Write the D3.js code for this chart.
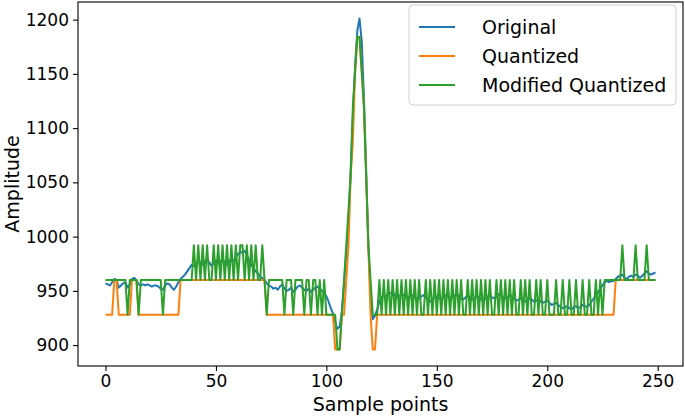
<!DOCTYPE html>
<html>
<head>
<meta charset="utf-8">
<script src="https://cdn.jsdelivr.net/npm/d3@7"></script>
<style>
  body { margin: 0; background: #fff; }
  svg { display: block; font-family: "DejaVu Sans", sans-serif; }
</style>
</head>
<body>
<div id="chart"></div>
<script>
// sample values (one value per sample point 0..249)
const original = [
  957, 956, 955, 958, 961, 960, 953, 955, 957, 958,
  953, 956, 961, 962, 960, 956, 955, 956, 955, 956,
  955, 954, 955, 955, 954, 952, 951, 955, 957, 956,
  953, 951, 954, 958, 961, 963, 965, 968, 971, 974,
  973, 975, 977, 976, 974, 977, 979, 976, 973, 976,
  978, 975, 977, 979, 976, 974, 977, 980, 978, 981,
  984, 986, 985, 987, 983, 978, 974, 971, 968, 966,
  963, 962, 960, 957, 955, 954, 952, 953, 951, 954,
  956, 952, 950, 951, 953, 949, 951, 954, 955, 953,
  951, 950, 952, 949, 951, 953, 954, 952, 950, 948,
  945, 940, 934, 929, 921, 915, 917, 931, 957, 985,
  1012, 1062, 1112, 1158, 1190, 1201, 1180, 1128, 1062, 992,
  946, 924, 927, 933, 940, 944, 946, 945, 947, 948,
  949, 946, 944, 945, 947, 946, 944, 943, 945, 946,
  944, 942, 943, 945, 946, 944, 941, 940, 942, 944,
  945, 943, 942, 944, 946, 945, 943, 944, 946, 947,
  945, 943, 942, 944, 946, 944, 942, 943, 945, 944,
  942, 941, 943, 945, 946, 944, 943, 945, 947, 946,
  944, 943, 944, 946, 945, 943, 941, 942, 943, 941,
  940, 941, 943, 942, 940, 941, 942, 940, 939, 940,
  941, 939, 937, 938, 939, 937, 935, 934, 935, 936,
  934, 933, 935, 936, 934, 935, 937, 936, 935, 937,
  940, 943, 946, 949, 952, 955, 958, 959, 958, 959,
  959, 961, 963, 964, 965, 962, 961, 963, 964, 963,
  965, 964, 962, 964, 966, 968, 966, 965, 966, 967
];

const quantized = [
  928, 928, 928, 928, 960, 960, 928, 928, 928, 928,
  928, 928, 960, 960, 960, 928, 928, 928, 928, 928,
  928, 928, 928, 928, 928, 928, 928, 928, 928, 928,
  928, 928, 928, 928, 960, 960, 960, 960, 960, 960,
  960, 960, 960, 960, 960, 960, 960, 960, 960, 960,
  960, 960, 960, 960, 960, 960, 960, 960, 960, 960,
  960, 960, 960, 960, 960, 960, 960, 960, 960, 960,
  960, 960, 960, 928, 928, 928, 928, 928, 928, 928,
  928, 928, 928, 928, 928, 928, 928, 928, 928, 928,
  928, 928, 928, 928, 928, 928, 928, 928, 928, 928,
  928, 928, 928, 928, 896, 896, 896, 928, 928, 960,
  992, 1056, 1088, 1152, 1184, 1184, 1152, 1120, 1056, 992,
  928, 896, 896, 928, 928, 928, 928, 928, 928, 928,
  928, 928, 928, 928, 928, 928, 928, 928, 928, 928,
  928, 928, 928, 928, 928, 928, 928, 928, 928, 928,
  928, 928, 928, 928, 928, 928, 928, 928, 928, 928,
  928, 928, 928, 928, 928, 928, 928, 928, 928, 928,
  928, 928, 928, 928, 928, 928, 928, 928, 928, 928,
  928, 928, 928, 928, 928, 928, 928, 928, 928, 928,
  928, 928, 928, 928, 928, 928, 928, 928, 928, 928,
  928, 928, 928, 928, 928, 928, 928, 928, 928, 928,
  928, 928, 928, 928, 928, 928, 928, 928, 928, 928,
  928, 928, 928, 928, 928, 928, 928, 928, 928, 928,
  928, 960, 960, 960, 960, 960, 960, 960, 960, 960,
  960, 960, 960, 960, 960, 960, 960, 960, 960, 960
];

const modified = [
  960, 960, 960, 960, 960, 960, 960, 960, 960, 960,
  928, 960, 960, 960, 960, 928, 960, 960, 960, 960,
  960, 960, 960, 960, 960, 960, 928, 960, 960, 960,
  960, 960, 960, 960, 960, 960, 960, 960, 960, 960,
  992, 960, 992, 960, 992, 960, 992, 960, 960, 992,
  960, 992, 960, 992, 960, 992, 960, 992, 960, 992,
  960, 992, 992, 960, 992, 960, 992, 960, 992, 960,
  960, 992, 960, 928, 960, 960, 960, 960, 960, 960,
  960, 928, 960, 960, 960, 928, 960, 960, 960, 960,
  928, 960, 960, 928, 960, 960, 928, 960, 928, 960,
  928, 928, 928, 928, 928, 896, 896, 928, 960, 992,
  1024, 1056, 1120, 1152, 1184, 1184, 1152, 1120, 1056, 992,
  960, 928, 928, 928, 960, 928, 960, 928, 960, 928,
  960, 928, 960, 928, 960, 928, 960, 928, 960, 928,
  960, 928, 960, 928, 928, 960, 928, 960, 928, 960,
  928, 960, 928, 960, 928, 960, 928, 960, 928, 960,
  928, 960, 928, 928, 960, 928, 960, 928, 960, 928,
  960, 928, 960, 928, 960, 928, 928, 960, 928, 960,
  928, 960, 928, 960, 928, 960, 928, 928, 960, 928,
  960, 928, 960, 928, 928, 960, 928, 960, 928, 928,
  960, 928, 928, 928, 960, 928, 928, 960, 928, 928,
  960, 928, 928, 960, 928, 928, 960, 928, 928, 960,
  928, 928, 960, 928, 960, 928, 960, 960, 960, 960,
  960, 960, 960, 960, 992, 960, 960, 960, 960, 960,
  992, 960, 960, 960, 960, 992, 960, 960, 960, 960
];

const seriesNames = ["Original", "Quantized", "Modified Quantized"];
const seriesColors = ["#1f77b4", "#ff7f0e", "#2ca02c"];
const xTicks = [0, 50, 100, 150, 200, 250];
const yTicks = [900, 950, 1000, 1050, 1100, 1150, 1200];

const width = 685, height = 418,
    margin = {top: 2, right: 2, bottom: 52, left: 78};
const innerW = width - margin.left - margin.right,
    innerH = height - margin.top - margin.bottom;

const svg = d3.select("#chart").append("svg")
    .attr("width", width)
    .attr("height", height);

const g = svg.append("g")
    .attr("transform", `translate(${margin.left},${margin.top})`);

// matplotlib-like 5% padding around the data
const n = original.length;
const xPad = (n - 1) * 0.05;
const yMin = d3.min([original, quantized, modified].flat()),
    yMax = d3.max([original, quantized, modified].flat());
const yPad = (yMax - yMin) * 0.05;

const x = d3.scaleLinear().domain([-xPad, n - 1 + xPad]).range([0, innerW]);
const y = d3.scaleLinear().domain([yMin - yPad, yMax + yPad]).range([innerH, 0]);

const line = d3.line()
    .x((d, i) => x(i))
    .y(d => y(d));

[original, quantized, modified].forEach((s, k) => {
    g.append("path")
        .datum(s)
        .attr("fill", "none")
        .attr("stroke", seriesColors[k])
        .attr("stroke-width", 2)
        .attr("stroke-linejoin", "round")
        .attr("d", line);
});

// axes
const xAxis = g.append("g")
    .attr("transform", `translate(0,${innerH})`)
    .call(d3.axisBottom(x).tickValues(xTicks).tickFormat(d3.format("d"))
        .tickSize(5).tickPadding(4).tickSizeOuter(0));
const yAxis = g.append("g")
    .call(d3.axisLeft(y).tickValues(yTicks).tickFormat(d3.format("d"))
        .tickSize(5).tickPadding(4).tickSizeOuter(0));

[xAxis, yAxis].forEach(a => {
    a.select(".domain").remove();
    a.selectAll(".tick line").attr("stroke", "#000").attr("stroke-width", 1.1);
    a.selectAll(".tick text")
        .attr("fill", "#000")
        .style("font-family", "DejaVu Sans")
        .style("font-size", "17px");
});

// frame
g.append("rect")
    .attr("x", 0).attr("y", 0)
    .attr("width", innerW).attr("height", innerH)
    .attr("fill", "none")
    .attr("stroke", "#000")
    .attr("stroke-width", 1.1);

// axis labels
svg.append("text")
    .attr("x", margin.left + innerW / 2)
    .attr("y", 411)
    .attr("text-anchor", "middle")
    .style("font-size", "19px")
    .text("Sample points");

svg.append("text")
    .attr("transform", `translate(19,${margin.top + innerH / 2}) rotate(-90)`)
    .attr("text-anchor", "middle")
    .style("font-size", "19px")
    .text("Amplitude");

// legend
const legend = svg.append("g").attr("transform", "translate(409,5)");
legend.append("rect")
    .attr("width", 267).attr("height", 100)
    .attr("rx", 4)
    .attr("fill", "#fff").attr("fill-opacity", 0.8)
    .attr("stroke", "#d0d0d0");

seriesNames.forEach((name, k) => {
    const row = legend.append("g").attr("transform", `translate(0,${22 + k * 29})`);
    row.append("line")
        .attr("x1", 10).attr("x2", 46)
        .attr("stroke", seriesColors[k])
        .attr("stroke-width", 2);
    row.append("text")
        .attr("x", 73)
        .attr("dy", "0.35em")
        .style("font-size", "19px")
        .text(name);
});
</script>
</body>
</html>
